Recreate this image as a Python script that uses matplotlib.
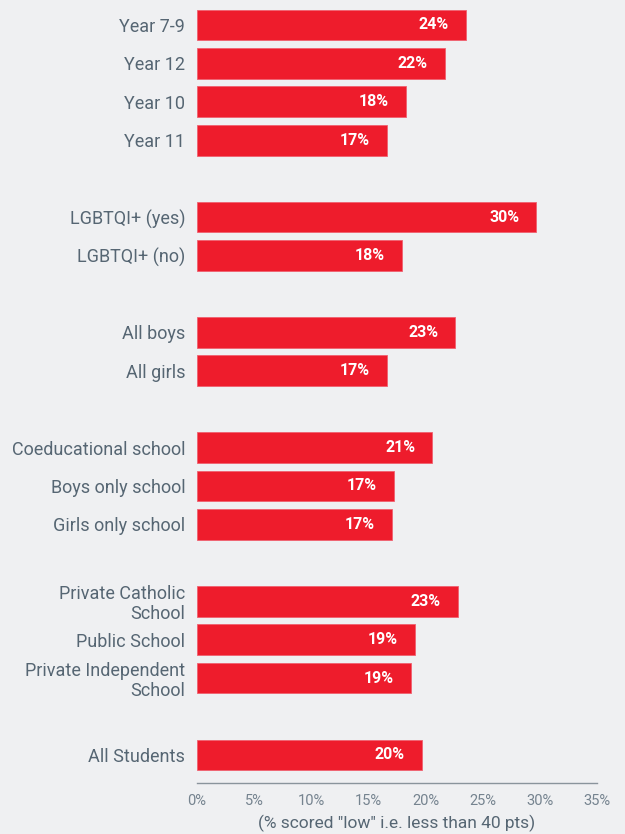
import matplotlib
matplotlib.use('Agg')
import matplotlib.pyplot as plt

# Share of students scoring "low" (< 40 pts), by group
labels = [
    "Year 7-9", "Year 12", "Year 10", "Year 11",
    "LGBTQI+ (yes)", "LGBTQI+ (no)",
    "All boys", "All girls",
    "Coeducational school", "Boys only school", "Girls only school",
    "Private Catholic\nSchool", "Public School", "Private Independent\nSchool",
    "All Students",
]
values = [23.5, 21.7, 18.3, 16.6,
          29.7, 17.9,
          22.6, 16.6,
          20.6, 17.2, 17.1,
          22.8, 19.1, 18.7,
          19.7]
# slot index of each bar; empty slots separate the groups
slots = [0, 1, 2, 3, 5, 6, 8, 9, 11, 12, 13, 15, 16, 17, 19]
xticks = [0, 5, 10, 15, 20, 25, 30, 35]

BG = '#eff0f2'
RED = '#ee1c2c'
TEXT = '#566673'
TICK = '#75838f'

plt.rcParams['font.family'] = ['Roboto', 'DejaVu Sans']

fig = plt.figure(figsize=(6.25, 8.34), dpi=100, facecolor=BG)
ax = fig.add_axes([0.3152, 0.0612, 0.64, 0.9388], facecolor=BG)

ax.barh(slots, values, height=0.8, color=RED, edgecolor='#f06070', linewidth=0.6)

for y, v in zip(slots, values):
    ax.text(v - 1.5, y, f"{v:.0f}%", ha='right', va='center',
            color='white', fontsize=11.5, fontweight='bold')

ax.set_yticks(slots)
ax.set_yticklabels(labels, fontsize=13, color=TEXT, linespacing=1.12)
ax.set_xticks(xticks)
ax.set_xticklabels([f"{t}%" for t in xticks], fontsize=10.5, color=TICK)
ax.tick_params(axis='both', length=0)
ax.tick_params(axis='y', pad=8.5)
ax.tick_params(axis='x', pad=8)

ax.set_xlim(0, 35)
ax.set_ylim(19.73, -0.65)

for side in ['top', 'right', 'left']:
    ax.spines[side].set_visible(False)
ax.spines['bottom'].set_color('#8a949c')
ax.spines['bottom'].set_linewidth(1.0)

ax.set_xlabel('(% scored "low" i.e. less than 40 pts)', fontsize=12.5,
              color=TEXT, labelpad=5)

fig.savefig('out.png', dpi=100, facecolor=BG)
